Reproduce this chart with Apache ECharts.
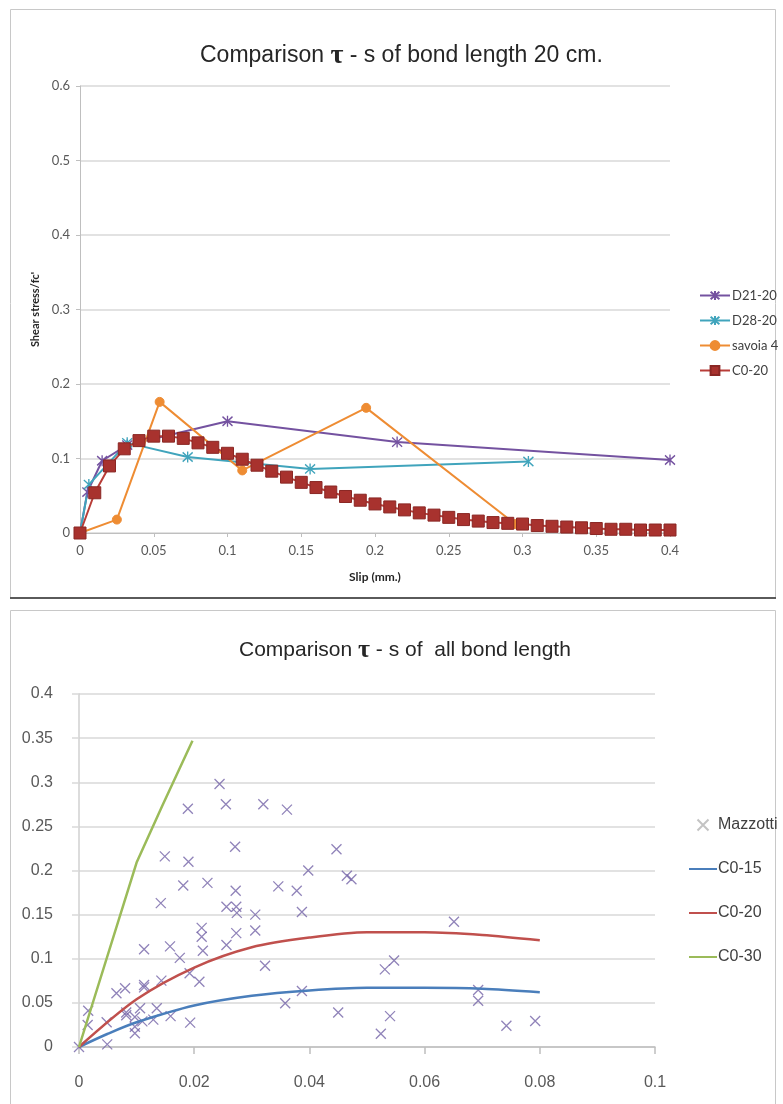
<!DOCTYPE html>
<html>
<head>
<meta charset="utf-8">
<script src="https://cdn.jsdelivr.net/npm/echarts@6/dist/echarts.min.js"></script>
<style>
  html, body { margin: 0; padding: 0; background: #ffffff; }
  #chart { width: 783px; height: 1104px; }
</style>
</head>
<body>
<div id="chart"></div>
<script>
// ---- Bond length 20 cm: shear stress / fc' against slip (mm) ----
const d2120Slip   = [0, 0.005, 0.015, 0.032, 0.1, 0.215, 0.4];
const d2120Stress = [0, 0.055, 0.097, 0.118, 0.15, 0.122, 0.098];

const d2820Slip   = [0, 0.006, 0.032, 0.073, 0.156, 0.304];
const d2820Stress = [0, 0.065, 0.121, 0.102, 0.086, 0.096];

const savoiaSlip   = [0, 0.025, 0.054, 0.11, 0.194, 0.295];
const savoiaStress = [0, 0.018, 0.176, 0.084, 0.168, 0.012];

const c020Slip = [0, 0.01, 0.02, 0.03, 0.04, 0.05, 0.06, 0.07, 0.08, 0.09,
  0.10, 0.11, 0.12, 0.13, 0.14, 0.15, 0.16, 0.17, 0.18, 0.19,
  0.20, 0.21, 0.22, 0.23, 0.24, 0.25, 0.26, 0.27, 0.28, 0.29,
  0.30, 0.31, 0.32, 0.33, 0.34, 0.35, 0.36, 0.37, 0.38, 0.39, 0.40];
const c020Stress = [0, 0.054, 0.09, 0.113, 0.124, 0.130, 0.130, 0.127, 0.121, 0.115,
  0.107, 0.099, 0.091, 0.083, 0.075, 0.068, 0.061, 0.055, 0.049, 0.044,
  0.039, 0.035, 0.031, 0.027, 0.024, 0.021, 0.018, 0.016, 0.014, 0.013,
  0.012, 0.010, 0.009, 0.008, 0.007, 0.006, 0.005, 0.005, 0.004, 0.004, 0.004];

// ---- All bond lengths ----
const mazzSlip = [0, 0.0015, 0.0016, 0.0048, 0.0049, 0.0065, 0.0080, 0.0082, 0.0082, 0.0097,
  0.0097, 0.0097, 0.0106, 0.0110, 0.0113, 0.0113, 0.0113, 0.0129, 0.0135, 0.0142,
  0.0143, 0.0149, 0.0158, 0.0159, 0.0175, 0.0181, 0.0189, 0.0190, 0.0192, 0.0193,
  0.0209, 0.0213, 0.0213, 0.0215, 0.0223, 0.0244, 0.0255, 0.0256, 0.0256, 0.0271,
  0.0272, 0.0273, 0.0274, 0.0273, 0.0306, 0.0306, 0.0320, 0.0323, 0.0346, 0.0358,
  0.0361, 0.0378, 0.0387, 0.0387, 0.0398, 0.0447, 0.0450, 0.0465, 0.0473, 0.0524,
  0.0531, 0.0540, 0.0547, 0.0651, 0.0693, 0.0693, 0.0742, 0.0792];
const mazzStress = [0, 0.025, 0.041, 0.028, 0.003, 0.061, 0.0665, 0.039, 0.036, 0.034,
  0.023, 0.0155, 0.044, 0.029, 0.0703, 0.0676, 0.1107, 0.031, 0.044, 0.163,
  0.0752, 0.216, 0.114, 0.035, 0.101, 0.183, 0.270, 0.210, 0.0835, 0.0276,
  0.074, 0.135, 0.125, 0.109, 0.186, 0.298, 0.275, 0.159, 0.1156, 0.227,
  0.177, 0.159, 0.152, 0.129, 0.150, 0.132, 0.275, 0.092, 0.182, 0.0495,
  0.269, 0.177, 0.153, 0.0635, 0.200, 0.224, 0.039, 0.194, 0.190, 0.015,
  0.088, 0.035, 0.098, 0.142, 0.0646, 0.0525, 0.024, 0.0295];

const c015Slip   = [0, 0.005, 0.01, 0.02, 0.03, 0.04, 0.05, 0.06, 0.07, 0.08];
const c015Stress = [0, 0.015, 0.028, 0.047, 0.058, 0.064, 0.067, 0.067, 0.066, 0.062];

const c020AllSlip   = c020Slip.slice(0, 9);
const c020AllStress = c020Stress.slice(0, 9);

const c030Slip   = [0, 0.01, 0.0145, 0.0197];
const c030Stress = [0, 0.209, 0.274, 0.347];

const pairs = (xs, ys) => xs.map((x, i) => [x, ys[i]]);

const starPath  = 'path://M0,1L10,11M10,1L0,11M5,0L5,12';
const crossPath = 'path://M0,0L10,10M10,0L0,10';

const purple = '#7452a0', teal = '#40a4bc', orange = '#ee8c33', brick = '#a8322e';
const gray = '#595959', axisGray = '#bfbfbf', gridGray = '#d9d9d9';

const chart = echarts.init(document.getElementById('chart'), null, { renderer: 'canvas' });

chart.setOption({
  animation: false,
  backgroundColor: '#ffffff',
  graphic: [
    { type: 'rect', shape: { x: 10.5, y: 9.5, width: 765, height: 588 },
      style: { fill: 'none', stroke: '#c8c8c8', lineWidth: 1 } },
    { type: 'line', shape: { x1: 10, y1: 598, x2: 776, y2: 598 },
      style: { stroke: '#5a5a5a', lineWidth: 2 } },
    { type: 'rect', shape: { x: 10.5, y: 610.5, width: 765, height: 500 },
      style: { fill: 'none', stroke: '#c8c8c8', lineWidth: 1 } }
  ],
  title: [
    {
      text: '{a|Comparison }{t|τ}{a| - s of bond length 20 cm.}',
      left: 195, top: 37,
      textStyle: { fontWeight: 'normal', rich: {
        a: { fontFamily: 'Liberation Sans', fontWeight: 'normal', fontSize: 23, color: '#262626' },
        t: { fontFamily: 'Liberation Serif', fontWeight: 'bold', fontSize: 28, color: '#262626' }
      } }
    },
    {
      text: '{a|Comparison }{t|τ}{a| - s of  all bond length}',
      left: 234, top: 632,
      textStyle: { fontWeight: 'normal', rich: {
        a: { fontFamily: 'Liberation Sans', fontWeight: 'normal', fontSize: 21, color: '#262626' },
        t: { fontFamily: 'Liberation Serif', fontWeight: 'bold', fontSize: 26, color: '#262626' }
      } }
    }
  ],
  legend: [
    {
      data: ['D21-20', 'D28-20', 'savoia 4', 'C0-20'],
      orient: 'vertical', left: 699, top: 289, padding: 0,
      itemWidth: 30, itemHeight: 11, itemGap: 12,
      textStyle: { fontFamily: 'Lato', fontSize: 13, color: '#404040', padding: [0, 0, 0, -3] }
    },
    {
      data: [{ name: 'Mazzotti', itemStyle: { borderColor: '#b4b4b4', color: '#b4b4b4' } },
             { name: 'C0-15', itemStyle: { opacity: 0 } },
             { name: 'C0-20 ', itemStyle: { opacity: 0 } },
             { name: 'C0-30', itemStyle: { opacity: 0 } }],
      orient: 'vertical', left: 688, top: 817, padding: 0,
      itemWidth: 28, itemHeight: 11, itemGap: 28,
      textStyle: { fontFamily: 'Liberation Sans', fontSize: 16, color: '#404040', padding: [0, 0, 0, -4] }
    }
  ],
  grid: [
    { left: 80, top: 86, width: 590, height: 447 },
    { left: 79, top: 694, width: 576, height: 353 }
  ],
  xAxis: [
    {
      gridIndex: 0, type: 'value', min: 0, max: 0.4, interval: 0.05,
      axisLine: { show: true, onZero: false, lineStyle: { color: axisGray } },
      axisTick: { show: true, length: 4, lineStyle: { color: axisGray } },
      axisLabel: { color: gray, fontFamily: 'Lato', fontSize: 13, margin: 11 },
      splitLine: { show: false },
      name: 'Slip (mm.)', nameLocation: 'middle', nameGap: 38,
      nameTextStyle: { fontFamily: 'Lato', fontWeight: 'bold', fontSize: 12, color: '#262626' }
    },
    {
      gridIndex: 1, type: 'value', min: 0, max: 0.1, interval: 0.02,
      axisLine: { show: true, onZero: false, lineStyle: { color: axisGray, width: 1.5 } },
      axisTick: { show: true, length: 7, lineStyle: { color: axisGray, width: 1.5 } },
      axisLabel: { color: gray, fontFamily: 'Liberation Sans', fontSize: 16, margin: 28 },
      splitLine: { show: false }
    }
  ],
  yAxis: [
    {
      gridIndex: 0, type: 'value', min: 0, max: 0.6, interval: 0.1,
      axisLine: { show: true, lineStyle: { color: axisGray } },
      axisTick: { show: true, length: 4, lineStyle: { color: axisGray } },
      axisLabel: { color: gray, fontFamily: 'Lato', fontSize: 13, margin: 10 },
      splitLine: { show: true, lineStyle: { color: gridGray, width: 1.5 } },
      name: "Shear stress/fc'", nameLocation: 'middle', nameGap: 38, nameRotate: 90,
      nameTextStyle: { fontFamily: 'Lato', fontWeight: 'bold', fontSize: 11, color: '#262626' }
    },
    {
      gridIndex: 1, type: 'value', min: 0, max: 0.4, interval: 0.05,
      axisLine: { show: true, lineStyle: { color: '#d0d0d0', width: 1.5 } },
      axisTick: { show: true, length: 7, lineStyle: { color: gridGray, width: 1.5 } },
      axisLabel: { color: gray, fontFamily: 'Liberation Sans', fontSize: 16, margin: 26 },
      splitLine: { show: true, lineStyle: { color: gridGray, width: 1.5 } }
    }
  ],
  series: [
    {
      name: 'D21-20', type: 'line', xAxisIndex: 0, yAxisIndex: 0,
      data: pairs(d2120Slip, d2120Stress),
      symbol: starPath, symbolSize: [10, 11], showAllSymbol: true,
      lineStyle: { color: purple, width: 2 },
      itemStyle: { color: purple, borderColor: purple, borderWidth: 1.4 }
    },
    {
      name: 'D28-20', type: 'line', xAxisIndex: 0, yAxisIndex: 0,
      data: pairs(d2820Slip, d2820Stress),
      symbol: starPath, symbolSize: [10, 11], showAllSymbol: true,
      lineStyle: { color: teal, width: 2 },
      itemStyle: { color: teal, borderColor: teal, borderWidth: 1.4 }
    },
    {
      name: 'savoia 4', type: 'line', xAxisIndex: 0, yAxisIndex: 0,
      data: pairs(savoiaSlip, savoiaStress),
      symbol: 'circle', symbolSize: 9, showAllSymbol: true,
      lineStyle: { color: orange, width: 2 },
      itemStyle: { color: orange, borderColor: orange, borderWidth: 1 }
    },
    {
      name: 'C0-20', type: 'line', xAxisIndex: 0, yAxisIndex: 0,
      data: pairs(c020Slip, c020Stress),
      symbol: 'rect', symbolSize: 12, showAllSymbol: true,
      lineStyle: { color: '#b83d38', width: 2 },
      itemStyle: { color: brick, borderColor: '#8a2724', borderWidth: 1 }
    },
    {
      name: 'Mazzotti', type: 'scatter', xAxisIndex: 1, yAxisIndex: 1,
      data: pairs(mazzSlip, mazzStress),
      symbol: crossPath, symbolSize: 10, symbolKeepAspect: true,
      itemStyle: { color: '#7464a8', borderColor: '#7464a8', borderWidth: 1.3 }
    },
    {
      name: 'C0-15', type: 'line', xAxisIndex: 1, yAxisIndex: 1,
      data: pairs(c015Slip, c015Stress), smooth: 0.3,
      symbol: 'none', showSymbol: false,
      lineStyle: { color: '#4a7ebb', width: 2.5 },
      itemStyle: { color: '#4a7ebb' }
    },
    {
      name: 'C0-20 ', type: 'line', xAxisIndex: 1, yAxisIndex: 1,
      data: pairs(c020AllSlip, c020AllStress), smooth: 0.3,
      symbol: 'none', showSymbol: false,
      lineStyle: { color: '#c0504d', width: 2.5 },
      itemStyle: { color: '#c0504d' }
    },
    {
      name: 'C0-30', type: 'line', xAxisIndex: 1, yAxisIndex: 1,
      data: pairs(c030Slip, c030Stress),
      symbol: 'none', showSymbol: false,
      lineStyle: { color: '#9bbb59', width: 2.5 },
      itemStyle: { color: '#9bbb59' }
    }
  ]
});
</script>
</body>
</html>
